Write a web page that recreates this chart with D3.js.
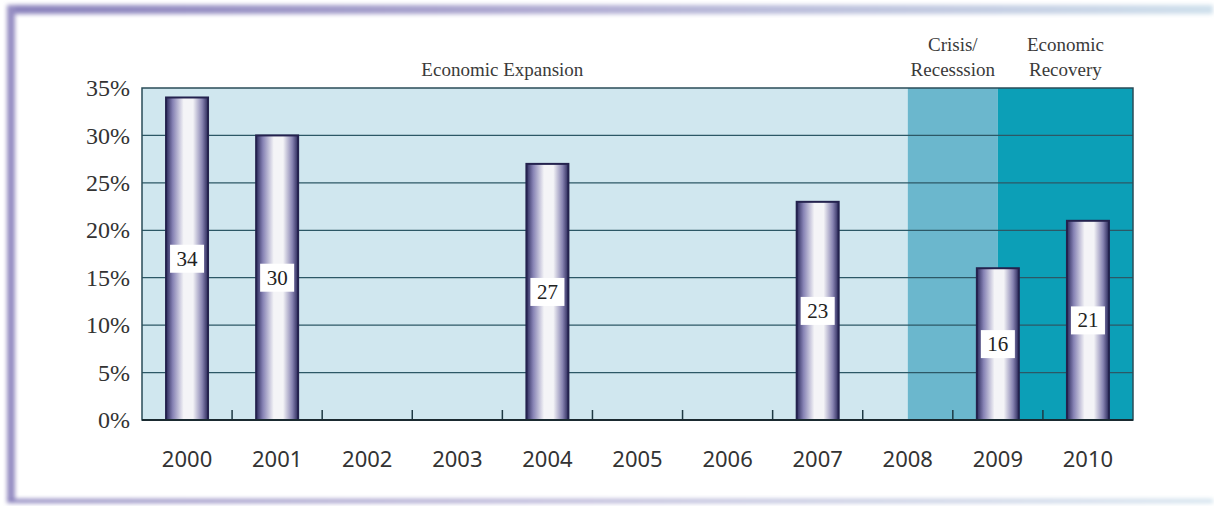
<!DOCTYPE html>
<html>
<head>
<meta charset="utf-8">
<script src="https://cdn.jsdelivr.net/npm/d3@7"></script>
<style>
  html, body { margin: 0; padding: 0; background: #fff; }
  svg { display: block; }
</style>
</head>
<body>
<div id="chart"></div>
<script>
// data
var years = ["2000", "2001", "2002", "2003", "2004", "2005", "2006", "2007", "2008", "2009", "2010"];
var values = [34, 30, null, null, 27, null, null, 23, null, 16, 21];
var yTicks = [0, 5, 10, 15, 20, 25, 30, 35];
var phases = [
    { from: "2000", to: "2008", lines: ["Economic Expansion"], fill: "#d0e7ef" },
    { from: "2008", to: "2009", lines: ["Crisis/", "Recesssion"], fill: "#6bb7cd" },
    { from: "2009", to: "2010", lines: ["Economic", "Recovery"], fill: "#0c9fb7" }
];

var W = 1214, H = 506;
var plotLeft = 142, plotRight = 1133, plotTop = 88, plotBottom = 420;

var svg = d3.select("#chart").append("svg")
    .attr("width", W)
    .attr("height", H);

var defs = svg.append("defs");

var barGrad = defs.append("linearGradient")
    .attr("id", "barGrad")
    .attr("x1", "0%").attr("x2", "100%").attr("y1", "0%").attr("y2", "0%");
barGrad.append("stop").attr("offset", "0%").attr("stop-color", "#2c2a5c");
barGrad.append("stop").attr("offset", "16%").attr("stop-color", "#8682b4");
barGrad.append("stop").attr("offset", "42%").attr("stop-color", "#f4f4f7");
barGrad.append("stop").attr("offset", "64%").attr("stop-color", "#f4f4f7");
barGrad.append("stop").attr("offset", "86%").attr("stop-color", "#8884b2");
barGrad.append("stop").attr("offset", "100%").attr("stop-color", "#2a285a");

var topGrad = defs.append("linearGradient")
    .attr("id", "topGrad")
    .attr("x1", "0%").attr("x2", "100%");
topGrad.append("stop").attr("offset", "0%").attr("stop-color", "#8a82bc");
topGrad.append("stop").attr("offset", "45%").attr("stop-color", "#b0abd2");
topGrad.append("stop").attr("offset", "100%").attr("stop-color", "#cfe0ec");

var blur = defs.append("filter").attr("id", "soft")
    .attr("x", "-5%").attr("y", "-5%").attr("width", "110%").attr("height", "110%");
blur.append("feGaussianBlur").attr("stdDeviation", 2);

// frame
var frame = svg.append("g").attr("filter", "url(#soft)");
frame.append("rect").attr("x", 7).attr("y", 5).attr("width", W - 8).attr("height", 9)
    .attr("fill", "url(#topGrad)");
frame.append("rect").attr("x", 7).attr("y", 5).attr("width", 8).attr("height", 496)
    .attr("fill", "#958dc2");
frame.append("rect").attr("x", 7).attr("y", 499).attr("width", W - 8).attr("height", 4)
    .attr("fill", "url(#topGrad)");

// scales
var x = d3.scaleBand().domain(years).range([plotLeft, plotRight]);
var y = d3.scaleLinear().domain([0, 35]).range([plotBottom, plotTop]);

// phase backgrounds
function phaseX0(p, i) { return i === 0 ? plotLeft : x(p.from) + x.bandwidth() / 2; }
function phaseX1(p, i) { return i === phases.length - 1 ? plotRight : x(p.to) + x.bandwidth() / 2; }
function phaseLabelX(p, i) {
    // the first label sits over its own bands only
    if (i === 0) return (plotLeft + x(p.to)) / 2;
    return (phaseX0(p, i) + phaseX1(p, i)) / 2;
}

svg.append("g").selectAll("rect")
    .data(phases)
    .join("rect")
    .attr("x", function(d, i) { return phaseX0(d, i); })
    .attr("y", plotTop)
    .attr("width", function(d, i) { return phaseX1(d, i) - phaseX0(d, i); })
    .attr("height", plotBottom - plotTop)
    .attr("fill", function(d) { return d.fill; });

// phase titles
var titles = svg.append("g")
    .attr("font-family", "'Liberation Serif', 'Times New Roman', serif")
    .attr("font-size", 19)
    .attr("fill", "#3a3a3a")
    .attr("text-anchor", "middle");

titles.selectAll("text")
    .data(phases)
    .join("text")
    .attr("x", function(d, i) { return phaseLabelX(d, i); })
    .each(function(d) {
        var t = d3.select(this);
        var n = d.lines.length;
        d.lines.forEach(function(line, k) {
            t.append("tspan")
                .attr("x", t.attr("x"))
                .attr("y", plotTop - 12 - (n - 1 - k) * 25)
                .text(line);
        });
    });

// grid
svg.append("g")
    .selectAll("line")
    .data(yTicks.filter(function(v) { return v > 0 && v < 35; }))
    .join("line")
    .attr("x1", plotLeft).attr("x2", plotRight)
    .attr("y1", function(d) { return y(d); })
    .attr("y2", function(d) { return y(d); })
    .attr("stroke", "#2c5866")
    .attr("stroke-width", 1.3);

// y axis labels
var yAxis = d3.axisLeft(y).tickValues(yTicks)
    .tickFormat(function(d) { return d + "%"; })
    .tickSize(0).tickPadding(12);
var yg = svg.append("g").attr("transform", "translate(" + plotLeft + ",0)").call(yAxis);
yg.select(".domain").remove();
yg.selectAll("text")
    .attr("font-family", "'Liberation Serif', 'Times New Roman', serif")
    .attr("font-size", 24)
    .attr("fill", "#333");

// x-axis boundary ticks
svg.append("g")
    .selectAll("line")
    .data(years.slice(1))
    .join("line")
    .attr("x1", function(d) { return x(d); })
    .attr("x2", function(d) { return x(d); })
    .attr("y1", plotBottom)
    .attr("y2", plotBottom - 10)
    .attr("stroke", "#1e3a44")
    .attr("stroke-width", 1.5);

// bars
var barW = 42;
var barData = years.map(function(yr, i) { return { year: yr, value: values[i] }; })
    .filter(function(d) { return d.value !== null; });

var bars = svg.append("g");
bars.selectAll("rect")
    .data(barData)
    .join("rect")
    .attr("x", function(d) { return x(d.year) + x.bandwidth() / 2 - barW / 2; })
    .attr("y", function(d) { return y(d.value); })
    .attr("width", barW)
    .attr("height", function(d) { return plotBottom - y(d.value); })
    .attr("fill", "url(#barGrad)")
    .attr("stroke", "#24224e")
    .attr("stroke-width", 2);

// value labels
var lab = svg.append("g");
lab.selectAll("rect")
    .data(barData)
    .join("rect")
    .attr("x", function(d) { return x(d.year) + x.bandwidth() / 2 - 17; })
    .attr("y", function(d) { return (y(d.value) + plotBottom) / 2 - 14; })
    .attr("width", 34)
    .attr("height", 28)
    .attr("fill", "#fff");
lab.selectAll("text")
    .data(barData)
    .join("text")
    .attr("x", function(d) { return x(d.year) + x.bandwidth() / 2; })
    .attr("y", function(d) { return (y(d.value) + plotBottom) / 2 + 7; })
    .attr("text-anchor", "middle")
    .attr("font-family", "'Liberation Serif', 'Times New Roman', serif")
    .attr("font-size", 21)
    .attr("fill", "#222")
    .text(function(d) { return d.value; });

// plot border
svg.append("rect")
    .attr("x", plotLeft).attr("y", plotTop)
    .attr("width", plotRight - plotLeft).attr("height", plotBottom - plotTop)
    .attr("fill", "none")
    .attr("stroke", "#2a4c58")
    .attr("stroke-width", 1.5);
svg.append("line")
    .attr("x1", plotLeft).attr("x2", plotRight)
    .attr("y1", plotBottom).attr("y2", plotBottom)
    .attr("stroke", "#1a2a30")
    .attr("stroke-width", 2);

// x axis labels
var xAxis = d3.axisBottom(x).tickSize(0).tickPadding(31);
var xg = svg.append("g").attr("transform", "translate(0," + plotBottom + ")").call(xAxis);
xg.select(".domain").remove();
xg.selectAll("text")
    .attr("font-family", "'Noto Sans', 'Open Sans', sans-serif")
    .attr("font-size", 22)
    .attr("fill", "#333");
</script>
</body>
</html>
